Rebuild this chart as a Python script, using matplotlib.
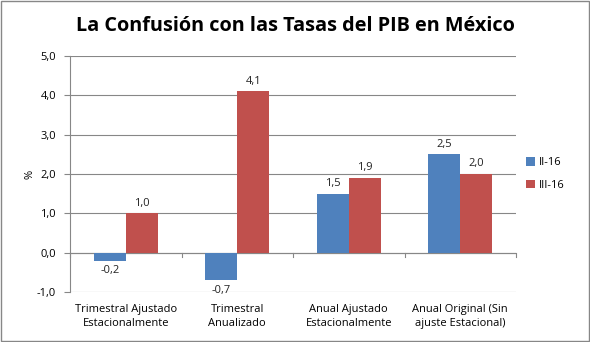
import matplotlib.pyplot as plt
import numpy as np
from matplotlib.patches import Rectangle

categories = ["Trimestral Ajustado\nEstacionalmente", "Trimestral\nAnualizado",
              "Anual Ajustado\nEstacionalmente", "Anual Original (Sin\najuste Estacional)"]
series_names = ["II-16", "III-16"]
ii_16 = [-0.2, -0.7, 1.5, 2.5]
iii_16 = [1.0, 4.1, 1.9, 2.0]
colors = ["#4F81BD", "#C0504D"]

plt.rcParams["font.family"] = ["Open Sans", "DejaVu Sans"]
fs = 8

fig = plt.figure(figsize=(5.9, 3.42), dpi=100)
ax = fig.add_axes([70 / 590, 1 - 292 / 342, 446 / 590, 236 / 342])

x = np.arange(len(categories))
w = 0.287
for vals, name, c, off in [(ii_16, series_names[0], colors[0], -w / 2),
                           (iii_16, series_names[1], colors[1], w / 2)]:
    bars = ax.bar(x + off, vals, w, color=c, label=name, zorder=3)
    for b, v in zip(bars, vals):
        y = v + 0.12 if v >= 0 else v - 0.12
        ax.text(b.get_x() + b.get_width() / 2, y, f"{v:.1f}".replace(".", ","),
                ha="center", va="bottom" if v >= 0 else "top", fontsize=fs, color="#222222")

ax.set_xlim(-0.5, len(categories) - 0.5)
ax.set_ylim(-1, 5)
ax.set_yticks(np.arange(-1, 6, 1))
ax.set_yticklabels([f"{t:.1f}".replace(".", ",") for t in np.arange(-1, 6, 1)], fontsize=fs)
ax.yaxis.grid(True, color="#878787", lw=0.8, zorder=0)
ax.set_xticks([])
for s in ["top", "right", "bottom"]:
    ax.spines[s].set_visible(False)
ax.spines["left"].set_color("#878787")
ax.tick_params(axis="y", length=4, color="#878787", pad=6)
ax.axhline(0, color="#878787", lw=0.8, zorder=2)
for b in np.arange(-0.5, len(categories), 1):
    ax.plot([b, b], [0, -0.1], color="#878787", lw=0.8, clip_on=False)
for i, cat in enumerate(categories):
    ax.text(i, -1.3, cat, ha="center", va="top", fontsize=fs, linespacing=1.45)
ax.set_ylabel("%", fontsize=fs, labelpad=1)

ax.legend(loc="center left", bbox_to_anchor=(1.0, 0.5), frameon=False, fontsize=fs,
          handlelength=0.8, handleheight=0.8, handletextpad=0.4, labelspacing=1.0)

fig.text(0.5, 1 - 26 / 342, "La Confusión con las Tasas del PIB en México",
         ha="center", va="center", fontsize=14.3, fontweight="bold")
fig.patches.append(Rectangle((0.002, 0.003), 0.996, 0.994, transform=fig.transFigure,
                             fill=False, edgecolor="#878787", lw=1))

fig.savefig("out.png", dpi=100)
